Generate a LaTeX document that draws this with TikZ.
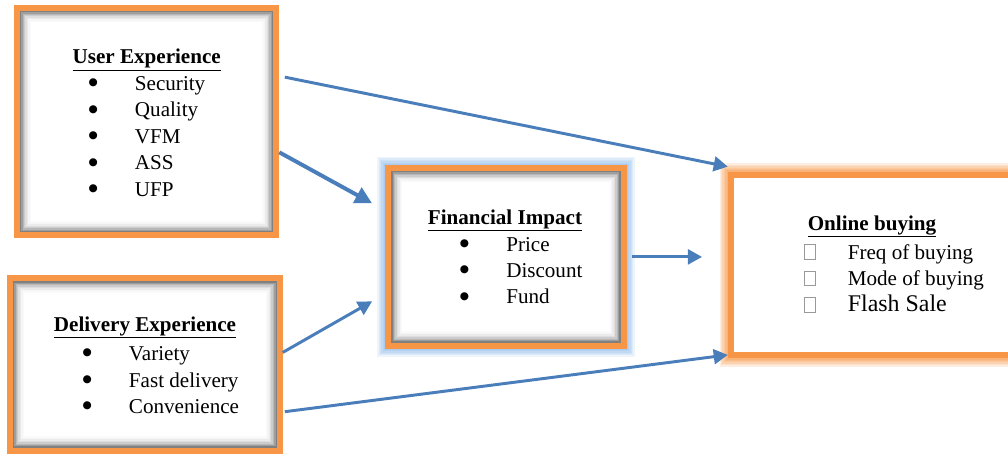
\documentclass[tikz,border=0pt]{standalone}
\usepackage{fontspec}
\setmainfont{Liberation Serif}
\newfontfamily\dotfont{DejaVu Sans}
\usetikzlibrary{arrows.meta}

\definecolor{boxorange}{HTML}{F79646}
\definecolor{flowblue}{HTML}{4A7EBB}
\definecolor{glowblue}{HTML}{8DB8E8}

\newcommand{\bul}{\makebox[33pt][l]{\raisebox{3.4pt}{\dotfont\fontsize{7.5pt}{8pt}\selectfont ●}}}
\newcommand{\ebox}{\makebox[31.5pt][l]{\textcolor{black!40}{\setlength{\fboxsep}{0pt}\setlength{\fboxrule}{0.5pt}\fbox{\rule{0pt}{10pt}\hspace{7.8pt}}}}}

\tikzset{
  panel/.style={rectangle,draw=boxorange,line width=4.25pt,fill=white},
  inshadow/.style={path picture={
    \foreach \k/\g in {2.5/50,3.5/38,4.5/28,5.5/20,6.5/13,7.5/8,8.5/4,9.5/2}
      \draw[black!\g,line width=1.05pt] ([shift={(\k pt,-\k pt)}]path picture bounding box.north west) rectangle ([shift={(-\k pt,\k pt)}]path picture bounding box.south east);
  }},
  glow/.style={preaction={draw=#1,opacity=.16,line width=16pt},
               preaction={draw=#1,opacity=.16,line width=14pt},
               preaction={draw=#1,opacity=.18,line width=12pt},
               preaction={draw=#1,opacity=.2,line width=10pt},
               preaction={draw=#1,opacity=.22,line width=8pt},
               preaction={draw=#1,opacity=.25,line width=6pt}},
  head/.style={inner sep=0pt,anchor=base,font=\fontsize{15pt}{18.8pt}\selectfont\bfseries},
  items/.style={inner sep=0pt,anchor=base west,font=\fontsize{15pt}{18.8pt}\selectfont},
  flow/.style={draw=flowblue,line width=2.1pt,-{Triangle[length=10pt,width=10.5pt]}}
}

\begin{document}
\begin{tikzpicture}[x=0.025cm,y=-0.025cm]
\useasboundingbox (0,0) rectangle (1008,455);
% boxes
\node[panel,inshadow,minimum width=6.48cm,minimum height=5.68cm](ue) at (146.7,121.7){};
\node[panel,inshadow,minimum width=6.74cm,minimum height=4.3cm](de) at (144.9,364.5){};
\node[panel,inshadow,glow=glowblue,minimum width=5.88cm,minimum height=4.43cm](fi) at (506,256.9){};
\node[panel,glow=boxorange,minimum width=7.03cm,minimum height=4.52cm](ob) at (871.4,265){};
% headings and lists
\node[head](ue-h) at (146.7,63.5){\underline{User Experience}};
\node[items](ue-l) at (88.3,90.5){\begin{tabular}[t]{@{}l@{}}\bul Security\\\bul Quality\\\bul VFM\\\bul ASS\\\bul UFP\end{tabular}};
\node[head](de-h) at (145,331){\underline{Delivery Experience}};
\node[items](de-l) at (82.3,360.7){\begin{tabular}[t]{@{}l@{}}\bul Variety\\\bul Fast delivery\\\bul Convenience\end{tabular}};
\node[head](fi-h) at (505,224){\underline{Financial Impact}};
\node[items](fi-l) at (459.6,251){\begin{tabular}[t]{@{}l@{}}\bul Price\\\bul Discount\\\bul Fund\end{tabular}};
\node[head](ob-h) at (872,230){\underline{Online buying}};
\node[items](ob-l) at (803.3,259){\begin{tabular}[t]{@{}l@{}}\ebox Freq of buying\\\ebox Mode of buying\\\ebox{\fontsize{17pt}{19pt}\selectfont Flash Sale}\end{tabular}};
% arrows
\draw[flow,shorten <=4pt] (ue.19) -- ([yshift=3.5pt]ob.north west);
\draw[flow,line width=2.8pt,-{Triangle[length=12pt,width=12pt]},shorten >=10.8pt] (ue.-13) -- (fi.159);
\draw[flow,shorten >=10.9pt] (de.5) -- (fi.-163);
\draw[flow,shorten <=3.8pt,shorten >=18.3pt] (fi.east) -- (fi.east -| ob.west);
\draw[flow,shorten <=1.5pt] (de.-19) -- ([yshift=2.5pt]ob.south west);
\end{tikzpicture}
\end{document}
